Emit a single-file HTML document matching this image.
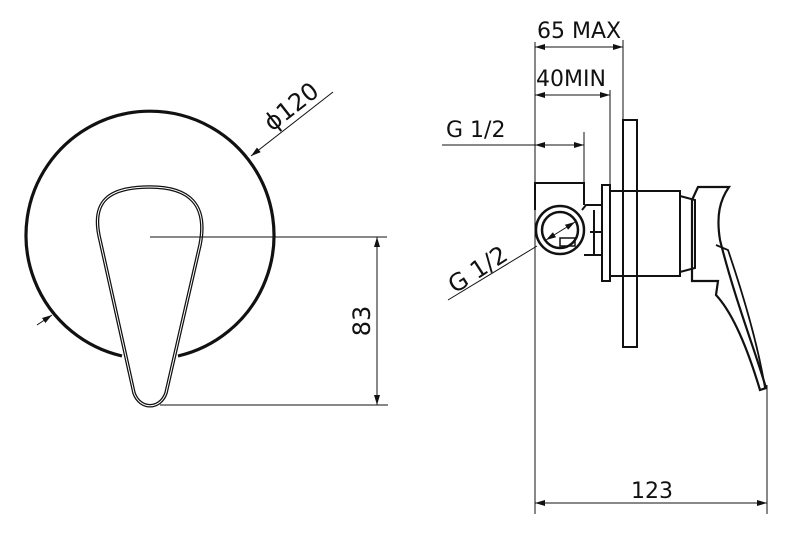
<!DOCTYPE html>
<html><head><style>
html,body{margin:0;padding:0;background:#fff;width:800px;height:534px;overflow:hidden}
text{font-family:"DejaVu Sans","Liberation Sans",sans-serif;fill:#111}
</style></head><body>
<svg width="800" height="534" viewBox="0 0 800 534" xmlns="http://www.w3.org/2000/svg">
<defs>
<marker id="a" viewBox="0 0 10 6" refX="10" refY="3" markerWidth="10" markerHeight="6" orient="auto-start-reverse" markerUnits="userSpaceOnUse"><path d="M0,0L10,3L0,6z" fill="#111"/></marker>
</defs>
<g fill="none" stroke="#111">
<path d="M122,356 A124,124 0 1 1 178,356" stroke-width="3.2"/>
<path d="M166,393 L200,245 C208,205 190,187 150,187 C110,187 90,200 100,240 L134,393 C140,410 160,410 166,393 Z" stroke-width="3.5"/>
<path d="M166,393 L200,245 C208,205 190,187 150,187 C110,187 90,200 100,240 L134,393 C140,410 160,410 166,393 Z" stroke="#fff" stroke-width="1"/>
<line x1="150" y1="237" x2="387" y2="237" stroke-width="1"/>
<line x1="160" y1="405" x2="388" y2="405" stroke-width="1"/>
<line x1="377" y1="237" x2="377" y2="405" stroke-width="1" marker-start="url(#a)" marker-end="url(#a)"/>
<line x1="333" y1="92" x2="251" y2="156" stroke-width="1" marker-end="url(#a)"/>
<line x1="37" y1="325" x2="52" y2="315" stroke-width="1" marker-end="url(#a)"/>
<line x1="535" y1="42" x2="535" y2="514" stroke-width="1"/>
<line x1="623" y1="40" x2="623" y2="120" stroke-width="1"/>
<line x1="610" y1="90" x2="610" y2="185" stroke-width="1"/>
<line x1="584" y1="132" x2="584" y2="183" stroke-width="1"/>
<line x1="767" y1="385" x2="767" y2="514" stroke-width="1"/>
<line x1="535" y1="47" x2="623" y2="47" stroke-width="1" marker-start="url(#a)" marker-end="url(#a)"/>
<line x1="535" y1="95" x2="610" y2="95" stroke-width="1" marker-start="url(#a)" marker-end="url(#a)"/>
<line x1="442" y1="145" x2="535" y2="145" stroke-width="1"/>
<line x1="535" y1="145" x2="584" y2="145" stroke-width="1" marker-start="url(#a)" marker-end="url(#a)"/>
<line x1="535" y1="503" x2="767" y2="503" stroke-width="1" marker-start="url(#a)" marker-end="url(#a)"/>
<line x1="448" y1="300" x2="537" y2="246" stroke-width="1"/>
<line x1="546" y1="240" x2="575" y2="222" stroke-width="1" marker-start="url(#a)" marker-end="url(#a)"/>
<path d="M535,210 L535,183 L584,183 L584,205" stroke-width="2"/>
<circle cx="560" cy="230" r="24" stroke-width="2.5"/>
<circle cx="560" cy="230" r="18" stroke-width="2.5"/>
<rect x="560" y="238" width="15" height="8" stroke-width="1.5"/>
<path d="M582,210 L586,205 L602,205 M584,255 L602,255 M590,232 L602,232 M594,210 L594,255" stroke-width="2"/>
<rect x="602" y="185" width="8" height="96" stroke-width="2"/>
<rect x="623" y="120" width="14" height="227" stroke-width="2"/>
<path d="M610,191 L680,191 L680,276 L610,276 M680,196 L695,200 L695,268 L680,272" stroke-width="2"/>
<path d="M698,187 L729,187 C720,200 716,215 720,240 C735,300 755,350 766,388 L760,390 C745,340 730,310 716,295 L718,281 L692,281 L692,200 Z" stroke-width="2.2"/>
<path d="M716,245 L728,250 C745,300 758,345 765,388" stroke-width="1.8"/>
</g>
<g font-size="22">
<text x="537" y="38">65 MAX</text>
<text x="536" y="86">40MIN</text>
<text x="446" y="137">G 1/2</text>
<text x="652" y="498" text-anchor="middle">123</text>
<text transform="translate(455,294) rotate(-33)" font-size="24">G 1/2</text>
<text transform="translate(272,132) rotate(-38)" font-size="24">ϕ120</text>
<text transform="translate(370,321) rotate(-90)" text-anchor="middle" font-size="24">83</text>
</g>
</svg>
</body></html>
